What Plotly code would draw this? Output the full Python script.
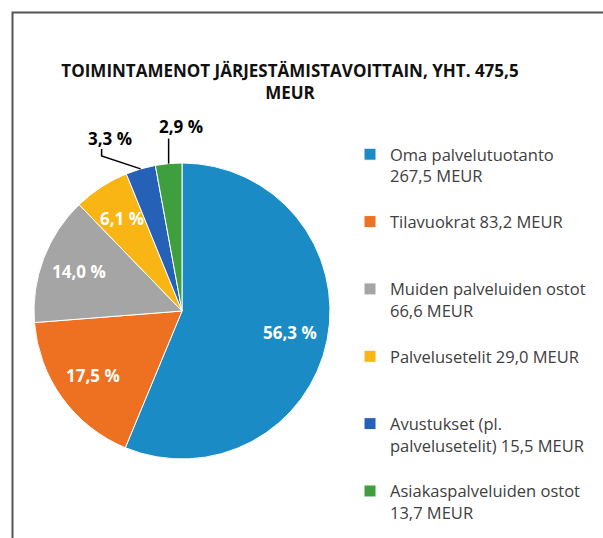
import math
import plotly.graph_objects as go

# ---------------- data ----------------
categories = [
    "Oma palvelutuotanto",
    "Tilavuokrat",
    "Muiden palveluiden ostot",
    "Palvelusetelit",
    "Avustukset (pl. palvelusetelit)",
    "Asiakaspalveluiden ostot",
]
values = [267.5, 83.2, 66.6, 29.0, 15.5, 13.7]
legend_names = [
    "Oma palvelutuotanto<br>",
    "Tilavuokrat ",
    "Muiden palveluiden ostot<br>",
    "Palvelusetelit ",
    "Avustukset (pl.<br>palvelusetelit) ",
    "Asiakaspalveluiden ostot<br>",
]
colors = ["#1b8bc6", "#ee7021", "#a5a5a5", "#f9b514", "#2561b6", "#3f9f3f"]
title_text = "TOIMINTAMENOT JÄRJESTÄMISTAVOITTAIN, YHT. 475,5<br>MEUR"

# ---------------- layout constants ----------------
W, H = 603, 538
CX, CY, R = 182, 311, 148          # pie centre / radius in pixels
FONT = "Open Sans"
LABEL_R = 0.745                    # inside label radius (fraction of R)
OUTSIDE = {4: (-31, -30, "elbow"), 5: (12, -37, "vertical")}  # label offsets from slice edge (px)


def fmt(v):
    return f"{v:.1f}".replace(".", ",")


total = sum(values)
pct = [v / total * 100 for v in values]


def px_to_paper(x, y):
    return x / W, 1 - y / H


legend_labels = []
for k, (name, v) in enumerate(zip(legend_names, values)):
    txt = f"{name}{fmt(v)} MEUR"
    n = txt.count("<br>") + 1
    if k < len(values) - 1:
        txt += "<br>\u00a0" * (3 - n)
    legend_labels.append(txt)

fig = go.Figure(
    go.Pie(
        labels=legend_labels,
        values=values,
        sort=False,
        direction="clockwise",
        rotation=0,
        textinfo="none",
        hoverinfo="label+percent",
        marker=dict(colors=colors, line=dict(color="white", width=1)),
        domain=dict(
            x=[(CX - R) / W, (CX + R) / W],
            y=[1 - (CY + R) / H, 1 - (CY - R) / H],
        ),
    )
)

annotations = []
shapes = []
cum = 0.0
for i, (v, p) in enumerate(zip(values, pct)):
    mid = (cum + v / 2) / total * 2 * math.pi
    cum += v
    label = f"{fmt(p)} %"
    if i not in OUTSIDE:
        lx = CX + LABEL_R * R * math.sin(mid)
        ly = CY - LABEL_R * R * math.cos(mid)
        x, y = px_to_paper(lx, ly)
        annotations.append(dict(x=x, y=y, xref="paper", yref="paper", text=label,
                                xanchor="center", yanchor="middle", showarrow=False,
                                font=dict(family=FONT, size=17, color="white", weight="bold")))
    else:
        ex = CX + R * math.sin(mid)
        ey = CY - R * math.cos(mid)
        dx, dy, kind = OUTSIDE[i]
        tx, ty = ex + dx, ey + dy
        x, y = px_to_paper(tx, ty)
        annotations.append(dict(x=x, y=y, xref="paper", yref="paper", text=label,
                                xanchor="center", yanchor="middle", showarrow=False,
                                font=dict(family=FONT, size=17, color="black", weight="bold")))
        if kind == "elbow":
            sx, sy = tx - 8, ty + 10
            pts = [(sx, sy), (sx, sy + 7), (ex, ey)]
        else:
            sx, sy = ex, ty + 12
            pts = [(sx, sy), (ex, ey)]
        path = "M " + " L ".join(f"{px_to_paper(a, b)[0]:.5f},{px_to_paper(a, b)[1]:.5f}" for a, b in pts)
        shapes.append(dict(type="path", xref="paper", yref="paper", path=path,
                           line=dict(color="black", width=1.5)))

# chart frame
shapes.append(dict(type="rect", xref="paper", yref="paper",
                   x0=12.5 / W, x1=1.02, y0=-0.02, y1=1 - 12.5 / H,
                   line=dict(color="#555555", width=2), layer="below"))

fig.update_layout(
    width=W,
    height=H,
    margin=dict(l=0, r=0, t=0, b=0, autoexpand=False),
    paper_bgcolor="white",
    plot_bgcolor="white",
    title=dict(text=title_text, x=290 / W, xanchor="center", y=1 - 77 / H, yanchor="top",
               xref="paper", yref="paper",
               font=dict(family=FONT, size=17, color="#111111", weight="bold")),
    showlegend=True,
    legend=dict(
        x=350 / W, y=1 - 137 / H, xanchor="left", yanchor="top",
        font=dict(family=FONT, size=16.5, color="#404040"),
        valign="top", itemwidth=30, tracegroupgap=0,
        bgcolor="rgba(0,0,0,0)",
    ),
    annotations=annotations,
    shapes=shapes,
)

fig.write_html("out.html", config={"displayModeBar": False},
               post_script="document.body.style.margin='0';")
